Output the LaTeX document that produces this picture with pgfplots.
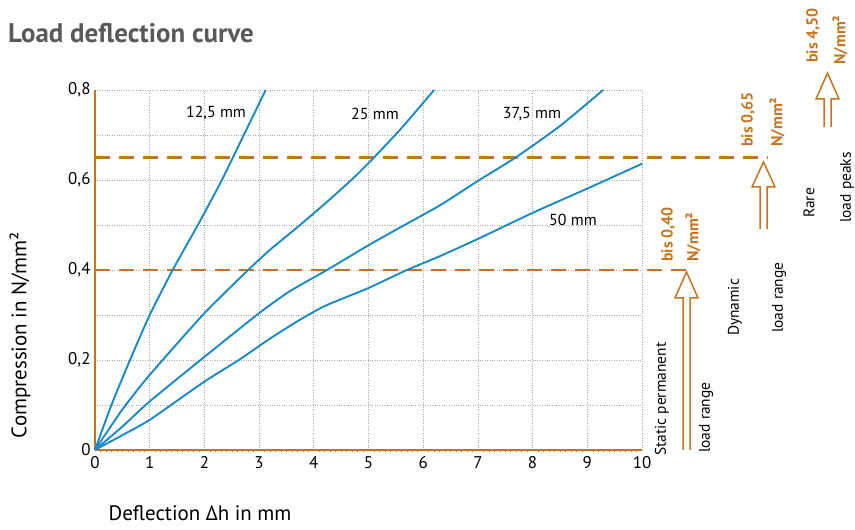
\documentclass[border=0pt]{standalone}
\usepackage{fontspec}
\setmainfont{PT Sans}
\usepackage{pgfplots}
\pgfplotsset{compat=1.18}
\definecolor{curveblue}{HTML}{1A8AC6}
\definecolor{loadorange}{HTML}{C8741E}
\definecolor{titlegray}{HTML}{595959}
\newcommand\fs[1]{\fontsize{#1}{#1}\selectfont}

\begin{document}
\begin{tikzpicture}[x=1bp,y=1bp]
\useasboundingbox (0,0) rectangle (855,530);
\begin{axis}[
  at={(95bp,80bp)}, anchor=south west,
  scale only axis, width=547bp, height=360bp,
  xmin=0, xmax=10, ymin=0, ymax=0.8,
  clip=false,
  axis lines*=left,
  axis line style={loadorange, line width=1.6bp},
  xtick={0,...,10},
  ytick={0,0.2,0.4,0.6,0.8},
  yticklabels={0,{0,2},{0,4},{0,6},{0,8}},
  minor ytick={0.1,0.3,0.5,0.7},
  minor x tick num=9,
  xmajorgrids=true, ymajorgrids=true, yminorgrids=true,
  major grid style={gray!65, dotted, line width=0.8bp},
  minor grid style={gray!65, dotted, line width=0.8bp},
  tick style={loadorange, line width=0.5bp},
  major tick length=0bp, minor tick length=2.5bp,
  minor y tick style={draw=none},
  tick align=outside,
  tick label style={font=\fs{17}},
  /pgf/number format/assume math mode=true,
  xticklabel style={yshift=-3bp},
  yticklabel style={xshift=-1bp},
]
% load limits
\addplot[loadorange, line width=2.4bp, dash pattern=on 15bp off 9bp] coordinates {(0,0.4) (10.9,0.4)};
\addplot[loadorange, line width=2.4bp, dash pattern=on 15bp off 9bp] coordinates {(0,0.65) (12.3,0.65)};
% 12,5 mm
\addplot[curveblue, line width=1.9bp, smooth, tension=0.35] coordinates {
  (0,0) (0.3,0.1) (0.64,0.2) (1,0.3) (1.42,0.4) (1.88,0.5) (2.32,0.6) (2.72,0.7) (3.12,0.8)};
% 25 mm
\addplot[curveblue, line width=1.9bp, smooth, tension=0.35] coordinates {
  (0,0) (0.5,0.09) (1,0.167) (2,0.304) (2.8,0.4) (3.2,0.445) (3.64,0.489) (4.2,0.547) (4.73,0.605) (5.1,0.65) (5.6,0.715) (6.2,0.8)};
% 37,5 mm
\addplot[curveblue, line width=1.9bp, smooth, tension=0.35] coordinates {
  (0,0) (0.5,0.052) (1,0.108) (2,0.207) (3,0.304) (3.55,0.352) (4.24,0.4) (5,0.455) (5.6,0.496) (6.31,0.544) (7,0.598) (7.69,0.65) (8.5,0.72) (9.29,0.8)};
% 50 mm
\addplot[curveblue, line width=1.9bp, smooth, tension=0.35] coordinates {
  (0,0) (0.5,0.033) (1,0.067) (2,0.152) (2.63,0.2) (3.18,0.246) (3.7,0.286) (4.2,0.32) (5,0.36) (5.7,0.4) (6.31,0.431) (7,0.469) (8,0.527) (9,0.581) (10,0.636)};
\end{axis}

% curve labels
\node[font=\fs{16}] at (216,417) {12,5 mm};
\node[font=\fs{16}] at (375,416) {25 mm};
\node[font=\fs{16}] at (532,416) {37,5 mm};
\node[font=\fs{16}] at (573,310) {50 mm};

% title and axis labels
\node[anchor=west, font=\bfseries\fs{27}, text=titlegray, inner sep=0pt] at (8,497) {Load deflection curve};
\node[rotate=90, font=\fs{21}] at (20,195) {Compression in N/mm²};
\node[font=\fs{21}] at (200,17) {Deflection Δh in mm};

% arrows
\begin{scope}[draw=loadorange, line width=1.5bp, fill=white, line join=miter]
\filldraw (683,80) -- (683,232) -- (675,232) -- (686.5,258) -- (698,232) -- (690,232) -- (690,80);
\filldraw (760,301) -- (760,343) -- (752,343) -- (763.5,368) -- (775,343) -- (767,343) -- (767,301);
\filldraw (824,403) -- (824,431) -- (816,431) -- (827.5,457) -- (839,431) -- (831,431) -- (831,403);
\end{scope}

% load range texts
\begin{scope}[every node/.style={rotate=90, anchor=west, inner sep=0pt, font=\fs{15.5}}]
\node at (662,74) {Static permanent};
\node at (706,77) {load range};
\node at (735,194) {Dynamic};
\node at (779,197) {load range};
\node at (809,312) {Rare};
\node at (847,307) {load peaks};
\end{scope}
\begin{scope}[every node/.style={rotate=90, anchor=west, inner sep=0pt, font=\bfseries\fs{16}, text=loadorange}]
\node at (668,268) {bis 0,40};
\node at (693,268) {N/mm²};
\node at (748,383) {bis 0,65};
\node at (777,383) {N/mm²};
\node at (813,467) {bis 4,50};
\node at (840,465) {N/mm²};
\end{scope}
\end{tikzpicture}
\end{document}
